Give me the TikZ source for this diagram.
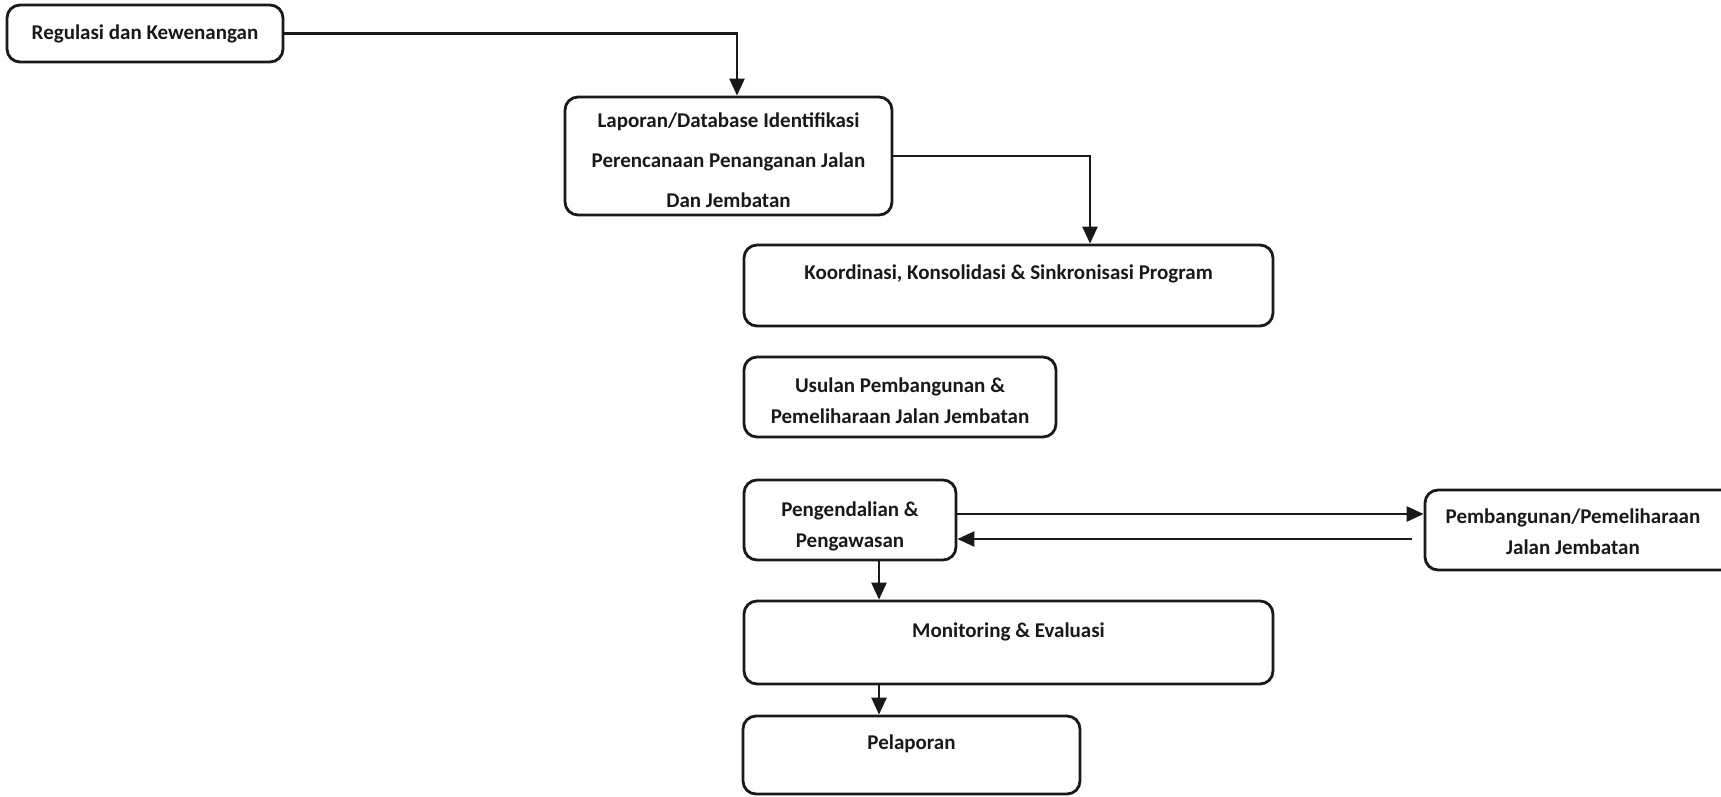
\documentclass[tikz,border=0pt]{standalone}
\usepackage{fontspec}
\setmainfont{Carlito}
\usetikzlibrary{arrows.meta}
\begin{document}
\begin{tikzpicture}[x=1pt,y=-1pt,
  box/.style={draw=black!90, line width=2.8pt, rounded corners=13pt, inner sep=0pt},
  txt/.style={font=\fontsize{21}{31}\selectfont\bfseries, align=center, text=black!90},
  arr/.style={draw=black!90, line width=2.5pt, -{Triangle[length=17pt,width=15pt]}}]
  \useasboundingbox (0,0) rectangle (1721,796);
  \clip (0,0) rectangle (1721,796);

  % boxes and their texts
  \node[box, minimum width=276pt, minimum height=57pt, txt] (reg) at (145,33.5) {Regulasi dan Kewenangan};
  \node[box, minimum width=327pt, minimum height=118pt] (lap) at (728.5,156) {};
  \node[txt] (lapt) at (728.5,160)
    {Laporan/Database Identifikasi\\[9pt]Perencanaan Penanganan Jalan\\[9pt]Dan Jembatan};
  \node[box, minimum width=529pt, minimum height=81pt] (koord) at (1008.5,285.5) {};
  \node[txt] (koordt) at (1008.5,274) {Koordinasi, Konsolidasi \& Sinkronisasi Program};
  \node[box, minimum width=312pt, minimum height=80pt] (usul) at (900,397) {};
  \node[txt] (usult) at (900,401) {Usulan Pembangunan \&\\Pemeliharaan Jalan Jembatan};
  \node[box, minimum width=212pt, minimum height=80pt] (peng) at (850,520) {};
  \node[txt] (pengt) at (850,526) {Pengendalian \&\\Pengawasan};
  \node[box, minimum width=330pt, minimum height=80pt] (pemb) at (1590,530) {};
  \node[txt] (pembt) at (1573,532) {Pembangunan/Pemeliharaan\\Jalan Jembatan};
  \node[box, minimum width=529pt, minimum height=83pt] (mon) at (1008.5,642.5) {};
  \node[txt] (mont) at (1008.5,632) {Monitoring \& Evaluasi};
  \node[box, minimum width=337pt, minimum height=78pt] (pel) at (911.5,755) {};
  \node[txt] (pelt) at (911.5,744) {Pelaporan};

  % connectors
  \coordinate (c1) at (737,0);
  \draw[arr] (reg.east) -| (c1 |- lap.north);
  \coordinate (c2) at (1090,0);
  \draw[arr] (lap.east) -| (c2 |- koord.north);
  \draw[arr] ([yshift=6pt]peng.east) -- ([yshift=6pt]peng.east -| pemb.west);
  \draw[arr] ([yshift=-19pt]peng.east -| pemb.west) ++(-12,0) -- ([yshift=-19pt]peng.east);
  \coordinate (c3) at (879,0);
  \draw[arr] (c3 |- peng.south) -- (c3 |- mon.north);
  \draw[arr] (c3 |- mon.south) -- (c3 |- pel.north);
\end{tikzpicture}
\end{document}
